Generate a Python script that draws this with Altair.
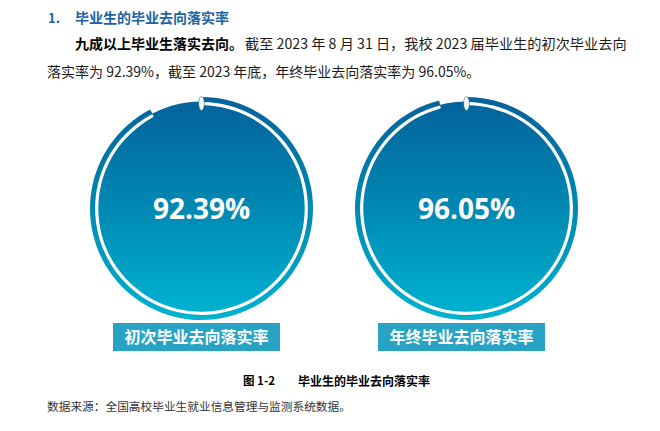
import math
import altair as alt
import pandas as pd

# ---- data ----
categories = ["初次毕业去向落实率", "年终毕业去向落实率"]
rates = [92.39, 96.05]
rate_labels = ["92.39%", "96.05%"]

heading_number = ["1."]
heading = ["毕业生的毕业去向落实率"]
lead_bold = ["九成以上毕业生落实去向。"]
lead_rest = ["截至 2023 年 8 月 31 日，我校 2023 届毕业生的初次毕业去向"]
line_two = ["落实率为 92.39%，截至 2023 年底，年终毕业去向落实率为 96.05%。"]
fig_number = ["图 1-2"]
fig_title = ["毕业生的毕业去向落实率"]
source_note = ["数据来源：全国高校毕业生就业信息管理与监测系统数据。"]

df = pd.DataFrame({"category": categories, "rate": rates, "label": rate_labels})

CJK = "Noto Sans CJK SC"
BLUE_HEAD = "#1e63a0"

xenc = alt.X(
    "category:N",
    sort=categories,
    scale=alt.Scale(type="point", domain=categories, range=[193.5, 458.5], padding=0),
    axis=None,
)
theta_enc = alt.Theta(
    "rate:Q", scale=alt.Scale(domain=[0, 100], range=[0, 2 * math.pi]), stack=None
)

grad = alt.Gradient(
    gradient="linear",
    stops=[
        alt.GradientStop(color="#04629a", offset=0),
        alt.GradientStop(color="#0089b2", offset=0.5),
        alt.GradientStop(color="#00b3d0", offset=1),
    ],
    x1=0, x2=0, y1=0, y2=1,
)

CY = 200.5
base = alt.Chart(df)

disk = base.mark_arc(radius=107, theta=0, theta2=2 * math.pi, fill=grad).encode(
    x=xenc, y=alt.value(CY)
)
band = base.mark_arc(radius=99, radius2=111.5, fill=grad).encode(
    x=xenc, y=alt.value(CY), theta=theta_enc, theta2=alt.value(0)
)
ring = base.mark_arc(radius=103.2, radius2=106.4, fill="white", cornerRadius=1.6).encode(
    x=xenc, y=alt.value(CY), theta=theta_enc, theta2=alt.value(0)
)
cap = base.mark_point(
    shape="M0,-1 A0.4,1 0 1,1 0,1 A0.4,1 0 1,1 0,-1 Z",
    size=196, filled=True, fill="white", stroke="#0a5f8f", strokeWidth=0.6, opacity=1,
).encode(x=xenc, y=alt.value(CY - 105))

pct = base.mark_text(
    font="Open Sans", fontWeight="bold", fontSize=28, color="white",
    baseline="middle", align="center",
).encode(x=xenc, y=alt.value(CY + 2), text="label:N")

box = base.mark_rect(width=167, color="#29a3c4").encode(
    x=xenc, xOffset=alt.value(-5), y=alt.value(315), y2=alt.value(343)
)
box_text = base.mark_text(
    font=CJK, fontWeight="bold", fontSize=16, color="white",
    baseline="middle", align="center",
).encode(x=xenc, xOffset=alt.value(-5), y=alt.value(329.5), text="category:N")


def text_layer(lines, x, y, size, weight="normal", color="#000000", align="left"):
    d = pd.DataFrame({"t": lines})
    return alt.Chart(d).mark_text(
        font=CJK, fontSize=size, fontWeight=weight, color=color,
        align=align, baseline="middle",
    ).encode(x=alt.value(x), y=alt.value(y), text="t:N")


texts = [
    text_layer(heading_number, 40, 11, 13, "bold", BLUE_HEAD),
    text_layer(heading, 67, 11, 14, "bold", BLUE_HEAD),
    text_layer(lead_bold, 67, 37, 14, "bold", "#000000"),
    text_layer(lead_rest, 237, 37, 14.2, "normal", "#1a1a1a"),
    text_layer(line_two, 39, 65, 14, "normal", "#1a1a1a"),
    text_layer(fig_number, 235, 374, 11.5, "bold", "#000000"),
    text_layer(fig_title, 290, 374, 12, "bold", "#000000"),
    text_layer(source_note, 39, 399, 11.7, "normal", "#333333"),
]

chart = alt.layer(disk, band, ring, cap, pct, box, box_text, *texts).properties(
    width=644, height=415, padding=0,
    autosize=alt.AutoSizeParams(type="none"),
    background="white",
).configure_view(stroke=None)

chart.save("out.html", embed_options={"renderer": "svg", "actions": False})
